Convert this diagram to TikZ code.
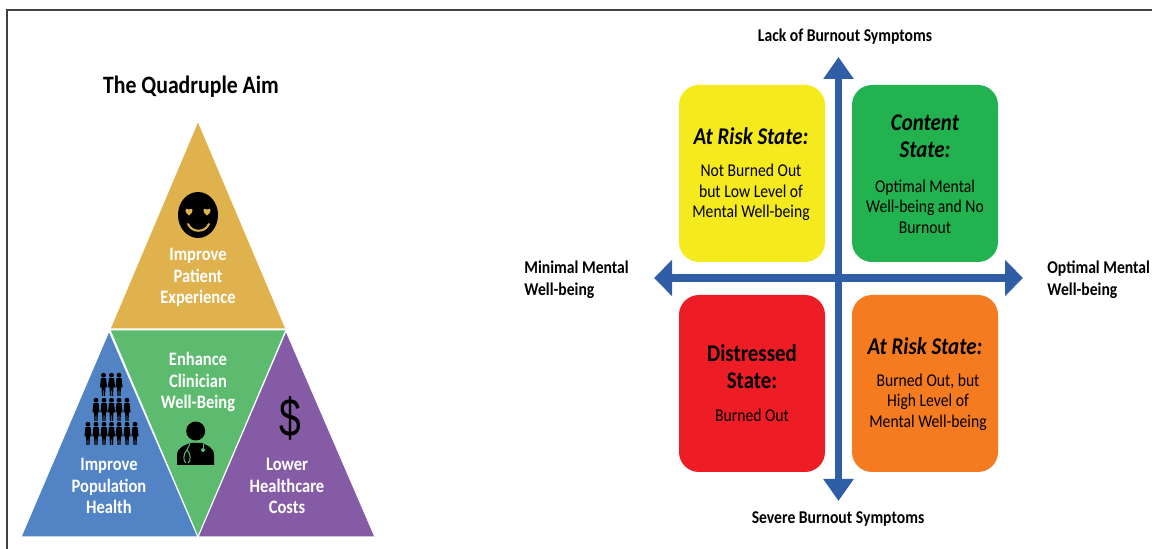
\documentclass[tikz,border=0pt]{standalone}
\usepackage{fontspec}
\setmainfont[FakeStretch=0.87]{Carlito}
\newfontfamily\dollarfont[FakeStretch=0.72]{Liberation Sans}
\usetikzlibrary{arrows.meta}
\definecolor{aimgold}{HTML}{DFB24E}
\definecolor{aimblue}{HTML}{5283C4}
\definecolor{aimgreen}{HTML}{5CBB6E}
\definecolor{aimpurple}{HTML}{855BA5}
\definecolor{boxyellow}{HTML}{F4EA1E}
\definecolor{boxgreen}{HTML}{22B24F}
\definecolor{boxred}{HTML}{EE1C25}
\definecolor{boxorange}{HTML}{F57B20}
\definecolor{axisblue}{HTML}{2F5DA6}
\tikzset{
  wedge/.style={draw=white, line width=0.5pt},
  aimtext/.style={text=white, align=center, inner sep=0pt, font=\fontsize{9.5}{10.85}\selectfont\bfseries},
  axislabel/.style={align=left, inner sep=0pt, font=\fontsize{9}{10.9}\selectfont\bfseries},
  statebox/.style={rounded corners=10pt, minimum width=73pt, minimum height=88.5pt, inner sep=0pt},
  statehead/.style={align=center, inner sep=0pt, font=\fontsize{12}{13.6}\selectfont\bfseries\itshape},
  statebody/.style={align=center, inner sep=0pt, font=\fontsize{9}{10.3}\selectfont},
  axisarrow/.style={draw=axisblue, line width=3.8pt},
  person/.pic={
    \fill (0,2.2) circle (2.4);
    \fill (-2.6,5.2) -- (2.6,5.2) -- (3.6,14.5) -- (1.8,14.5) -- (1.7,23) -- (0.4,23) -- (0.2,15.5)
      -- (-0.2,15.5) -- (-0.4,23) -- (-1.7,23) -- (-1.8,14.5) -- (-3.6,14.5) -- cycle;
  },
  heart/.pic={
    \fill[aimgold] (0,4) .. controls (-6,-0.5) and (-3.5,-4.5) .. (0,-2)
      .. controls (3.5,-4.5) and (6,-0.5) .. (0,4) -- cycle;
  }
}
\begin{document}
\begin{tikzpicture}[x=0.5pt,y=-0.5pt]
 	\useasboundingbox (0,0) rectangle (1152,549);
 	% frame
 	\draw [black!75, line width=0.6pt] (7,549) -- (7,10) -- (1152,10);
 	% left triangle
 	\fill [aimgold, wedge] (198,121) -- (286,329) -- (110,329) -- cycle;
 	\fill [aimblue, wedge] (109,331) -- (198,537) -- (21,537) -- cycle;
 	\fill [aimgreen, wedge] (110,330) -- (286,330) -- (198,537) -- cycle;
 	\fill [aimpurple, wedge] (286,331) -- (375,537) -- (198,537) -- cycle;
 	\node (aimtitle) at (191,87) [inner sep=0pt, font=\fontsize{12.5}{14}\selectfont\bfseries] {The Quadruple Aim};
 	\node (patient) at (198,277.5) [aimtext] {Improve\\Patient\\Experience};
 	\node (clinician) at (198,382) [aimtext] {Enhance\\Clinician\\Well-Being};
 	\node (population) at (109,486) [aimtext] {Improve\\Population\\Health};
 	\node (costs) at (287,486) [aimtext] {Lower\\Healthcare\\Costs};
 	% smiley
 	\fill [black] (198,215) ellipse [x radius=20, y radius=23];
 	\pic at (189,211.5) {heart};
 	\pic at (207,211.5) {heart};
 	\draw [aimgold, line width=1pt, line cap=round] (188,224) .. controls (192,233) and (205,233) .. (209,224);
 	% doctor
 	\fill [black] (195.7,431) circle (9.5);
 	\fill [black] (177,465) -- (177,455) .. controls (177,447) and (186,445) .. (190,443) -- (202,443)
 	  .. controls (206,445) and (214,447) .. (214,455) -- (214,465) -- cycle;
 	\draw [aimgreen, line width=0.5pt] (190,443) .. controls (189,447) and (187,448) .. (187,450)
 	  .. controls (183,453) and (183,462) .. (186,463) (187,450) .. controls (191,453) and (191,462) .. (188,463);
 	\draw [aimgreen, line width=0.5pt] (203,444) -- (203,448);
 	\fill [aimgreen] (203,450) circle (2);
 	% people
 	\pic at (103.5,373) {person};
 	\pic at (111.5,373) {person};
 	\pic at (119,373) {person};
 	\pic at (96,398) {person};
 	\pic at (104,398) {person};
 	\pic at (111.5,398) {person};
 	\pic at (119,398) {person};
 	\pic at (127,398) {person};
 	\pic at (88,422) {person};
 	\pic at (96,422) {person};
 	\pic at (104,422) {person};
 	\pic at (111.5,422) {person};
 	\pic at (119,422) {person};
 	\pic at (127,422) {person};
 	\pic at (135,422) {person};
 	\node (dollar) at (290,418) [inner sep=0pt, font=\fontsize{27}{27}\selectfont\dollarfont] {\$};
 	% quadrants
 	\node (atrisktop) at (752,173.5) [statebox, fill=boxyellow] {};
 	\node (content) at (925,173.5) [statebox, fill=boxgreen] {};
 	\node (distressed) at (752,383.5) [statebox, fill=boxred] {};
 	\node (atriskbottom) at (925,383.5) [statebox, fill=boxorange] {};
 	% axes
 	\coordinate (axisleft) at (654,278);
 	\coordinate (axisright) at (1023,278);
 	\coordinate (axistop) at (838.5,57);
 	\coordinate (axisbottom) at (838.5,501);
 	\draw [axisarrow, {Triangle[length=9pt,width=17.5pt]}-{Triangle[length=9pt,width=17.5pt]}] (axisleft) -- (axisright);
 	\draw [axisarrow, line width=3.3pt, {Triangle[length=11pt,width=14.5pt]}-{Triangle[length=11pt,width=14.5pt]}] (axisbottom) -- (axistop);
 	\node (lackburnout) at (845,37) [axislabel] {Lack of Burnout Symptoms};
 	\node (severeburnout) at (838,519) [axislabel] {Severe Burnout Symptoms};
 	\node (minimal) at (524,280) [axislabel, anchor=west] {Minimal Mental\\Well-being};
 	\node (optimal) at (1047,280) [axislabel, anchor=west] {Optimal Mental\\Well-being};
 	% quadrant texts
 	\node (atrisktophead) at (751,136) [statehead] {At Risk State:};
 	\node (atrisktopbody) at (751,192.5) [statebody] {Not Burned Out\\but Low Level of\\Mental Well-being};
 	\node (contenthead) at (925,136) [statehead] {Content\\State:};
 	\node (contentbody) at (925,206.5) [statebody] {Optimal Mental\\Well-being and No\\Burnout};
 	\node (distressedhead) at (752,366.5) [statehead, font=\fontsize{12}{13.6}\selectfont\bfseries] {Distressed\\State:};
 	\node (distressedbody) at (752,415) [statebody] {Burned Out};
 	\node (atriskbottomhead) at (925,346) [statehead] {At Risk State:};
 	\node (atriskbottombody) at (928,402) [statebody] {Burned Out, but\\High Level of\\Mental Well-being};
\end{tikzpicture}
\end{document}
